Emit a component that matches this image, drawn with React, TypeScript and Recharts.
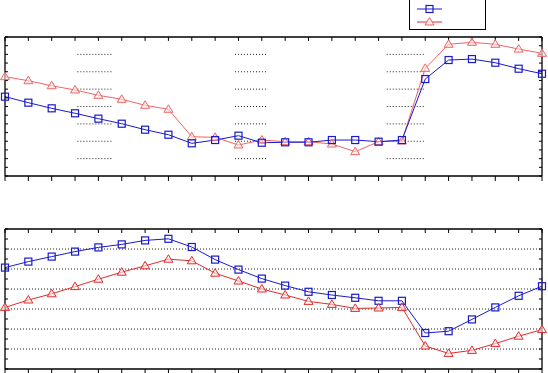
import React from 'react';
import { LineChart, Line, XAxis, YAxis, ReferenceLine } from 'recharts';

// x positions (24 samples)
const xs = Array.from({ length: 24 }, (_, i) => i);

// upper panel
const topBlue = [9.13, 8.44, 7.79, 7.22, 6.6, 6.02, 5.33, 4.75, 3.76, 4.14, 4.64, 3.83,
  3.88, 3.88, 4.14, 4.14, 3.95, 4.14, 11.16, 13.35, 13.46, 13.04, 12.35, 11.77];
const topRed = [11.43, 10.97, 10.39, 9.9, 9.29, 8.83, 8.14, 7.68, 4.52, 4.45, 3.57, 4.14,
  3.95, 3.95, 3.68, 2.8, 3.95, 4.03, 12.39, 15.16, 15.39, 15.16, 14.61, 14.12];

// lower panel
const bottomBlue = [5.07, 5.37, 5.62, 5.87, 6.08, 6.23, 6.43, 6.51, 6.1, 5.47, 4.97, 4.52,
  4.17, 3.86, 3.7, 3.56, 3.41, 3.41, 1.8, 1.89, 2.48, 3.08, 3.66, 4.14];
const bottomRed = [3.08, 3.45, 3.76, 4.12, 4.49, 4.84, 5.16, 5.49, 5.41, 4.79, 4.4, 4.0,
  3.7, 3.38, 3.23, 3.03, 3.05, 3.08, 1.15, 0.78, 0.93, 1.27, 1.64, 1.97];

const topTicks = Array.from({ length: 17 }, (_, i) => i);
const topGridLevels = [2, 4, 6, 8, 10, 12, 14];
const topGridBands = [[3.1, 4.6], [9.85, 11.25], [16.35, 18]];
const bottomTicks = Array.from({ length: 15 }, (_, i) => i * 0.5);
const bottomGridLevels = [1, 2, 3, 4, 5, 6];

const BLUE = '#1a1acc';
const RED_LIGHT = '#f06464';
const RED = '#e42a2a';

const topData = xs.map((x, i) => ({ x, blue: topBlue[i], red: topRed[i] }));
const bottomData = xs.map((x, i) => ({ x, blue: bottomBlue[i], red: bottomRed[i] }));

const Square = (props: any) => {
  const { cx, cy, index } = props;
  return <rect key={`s-${index}`} x={cx - 3.5} y={cy - 3.5} width={7} height={7} fill="none" stroke={BLUE} strokeWidth={1.2} />;
};

const makeTriangle = (color: string) => (props: any) => {
  const { cx, cy, index } = props;
  return (
    <polygon
      key={`t-${index}`}
      points={`${cx},${cy - 4.5} ${cx + 4.5},${cy + 3} ${cx - 4.5},${cy + 3}`}
      fill="#fde8e8"
      fillOpacity={0.6}
      stroke={color}
      strokeWidth={1}
    />
  );
};

// labels were blank in the original, keep the tick marks only
const NoLabel = () => <g />;

const axisLine = { stroke: '#000', strokeWidth: 1.3 };
const tickLine = { stroke: '#000', strokeWidth: 1 };

// top and right edges of the box, with short inward ticks, drawn as reference segments
// yMax: top of the y domain, yLen: tick length in y units, xLen: tick length in x units
const boxEdges = (yMax: number, yTicks: number[], yLen: number, xLen: number) => [
  <ReferenceLine key="edge-top" y={yMax} stroke="#000" strokeWidth={1.3} />,
  <ReferenceLine key="edge-right" x={23} stroke="#000" strokeWidth={1.3} />,
  ...xs.map((x) => (
    <ReferenceLine key={`tt-${x}`} segment={[{ x, y: yMax }, { x, y: yMax - yLen }]} stroke="#000" strokeWidth={1} />
  )),
  ...yTicks.map((y) => (
    <ReferenceLine key={`rt-${y}`} segment={[{ x: 23, y }, { x: 23 - xLen, y }]} stroke="#000" strokeWidth={1} />
  )),
];

export default function App() {
  return (
    <div style={{ position: 'absolute', left: 0, top: 0, width: 548, height: 373, background: '#fff' }}>
      <div style={{ position: 'absolute', left: 0, top: 0, width: 548, height: 190 }}>
        <LineChart width={548} height={190} data={topData} margin={{ top: 37, right: 6, bottom: 13, left: 5 }}>
          <XAxis dataKey="x" type="number" domain={[0, 23]} ticks={xs} tick={<NoLabel />} height={1} interval={0}
            axisLine={axisLine} tickLine={tickLine} tickSize={5} />
          <YAxis type="number" domain={[0, 16]} ticks={topTicks} tick={<NoLabel />} width={1} mirror interval={0}
            axisLine={axisLine} tickLine={tickLine} tickSize={3} />
          {topGridBands.map(([a, b], bi) =>
            topGridLevels.map((lv) => (
              <ReferenceLine key={`g-${bi}-${lv}`} segment={[{ x: a, y: lv }, { x: b, y: lv }]}
                stroke="#222" strokeDasharray="1 2" strokeWidth={1} />
            ))
          )}
          {boxEdges(16, topTicks, 0.45, 0.13)}
          <Line dataKey="red" stroke={RED_LIGHT} strokeWidth={1} dot={makeTriangle(RED_LIGHT)} isAnimationActive={false} />
          <Line dataKey="blue" stroke={BLUE} strokeWidth={1} dot={Square} isAnimationActive={false} />
        </LineChart>
      </div>
      <div style={{ position: 'absolute', left: 0, top: 190, width: 548, height: 183 }}>
        <LineChart width={548} height={183} data={bottomData} margin={{ top: 39, right: 6, bottom: 3, left: 5 }}>
          <XAxis dataKey="x" type="number" domain={[0, 23]} ticks={xs} tick={<NoLabel />} height={1} interval={0}
            axisLine={axisLine} tickLine={tickLine} tickSize={5} />
          <YAxis type="number" domain={[0, 7]} ticks={bottomTicks} tick={<NoLabel />} width={1} mirror interval={0}
            axisLine={axisLine} tickLine={tickLine} tickSize={3} />
          {bottomGridLevels.map((lv) => (
            <ReferenceLine key={`bg-${lv}`} y={lv} stroke="#222" strokeDasharray="1 2" strokeWidth={1} />
          ))}
          {boxEdges(7, bottomTicks, 0.2, 0.13)}
          <Line dataKey="blue" stroke={BLUE} strokeWidth={1} dot={Square} isAnimationActive={false} />
          <Line dataKey="red" stroke={RED} strokeWidth={1} dot={makeTriangle(RED)} isAnimationActive={false} />
        </LineChart>
      </div>
      <div style={{ position: 'absolute', left: 409, top: -1, width: 77, height: 31, border: '1px solid #000', boxSizing: 'border-box', background: '#fff' }}>
        <svg width={77} height={31} style={{ position: 'absolute', left: -1, top: -1 }}>
          <line x1={8} y1={10} x2={33} y2={10} stroke={BLUE} strokeWidth={1} />
          <rect x={17} y={6.5} width={7} height={7} fill="none" stroke={BLUE} strokeWidth={1.2} />
          <line x1={8} y1={23} x2={33} y2={23} stroke={RED} strokeWidth={1} />
          <polygon points="20.5,18.5 25,26 16,26" fill="#fde8e8" stroke={RED_LIGHT} strokeWidth={1} />
        </svg>
      </div>
    </div>
  );
}
